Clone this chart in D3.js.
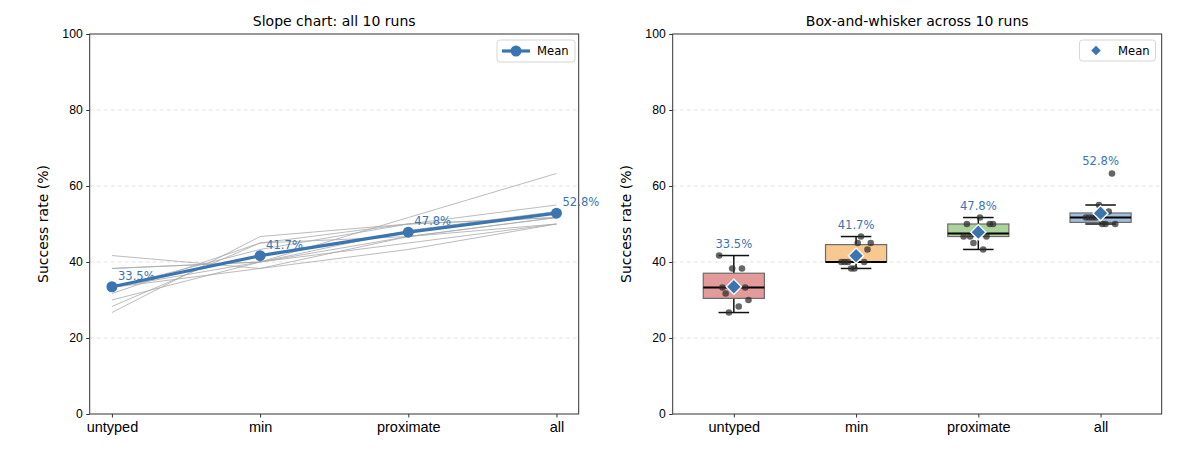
<!DOCTYPE html>
<html>
<head>
<meta charset="utf-8">
<script src="https://cdn.jsdelivr.net/npm/d3@7"></script>
<style>
  body { margin: 0; background: #fff; }
  svg { display: block; font-family: "DejaVu Sans", sans-serif; }
</style>
</head>
<body>
<svg id="chart" width="1200" height="466"></svg>
<script>
// categories and per-run success rates (%), one array per category, index = run
var categories = ["untyped", "min", "proximate", "all"];
var untyped   = [41.7, 38.3, 38.3, 33.3, 33.3, 33.3, 31.7, 30.0, 28.3, 26.7];
var minimal   = [38.3, 40.0, 40.0, 38.3, 40.0, 43.3, 45.0, 40.0, 45.0, 46.7];
var proximate = [43.3, 45.0, 46.7, 46.7, 48.3, 50.0, 50.0, 51.7, 46.7, 50.0];
var allTypes  = [50.0, 50.0, 51.7, 51.7, 53.3, 55.0, 51.7, 63.3, 50.0, 51.7];
var yTicks = [0, 20, 40, 60, 80, 100];

var series = [untyped, minimal, proximate, allTypes];
var means = series.map(function(s) { return d3.mean(s); });
var nRuns = untyped.length;

var blue = "#3a75b0";
var boxFills = ["#e29a9a", "#f8c891", "#abd39b", "#a2bedc"];

var svg = d3.select("#chart");
var plotTop = 34, plotBottom = 414;
var y = d3.scaleLinear().domain([0, 100]).range([plotBottom, plotTop]);

// draws the frame, grid, ticks and labels of one panel
function panel(x0, x1, pad, title) {
  var x = d3.scalePoint().domain(categories).range([x0, x1]).padding(pad);
  var g = svg.append("g");

  g.append("g").selectAll("line")
    .data(yTicks.filter(function(t) { return t > 0 && t < 100; }))
    .enter().append("line")
      .attr("x1", x0).attr("x2", x1)
      .attr("y1", function(d) { return y(d); })
      .attr("y2", function(d) { return y(d); })
      .style("stroke", "#d9d9d9")
      .style("stroke-width", 0.8)
      .style("stroke-dasharray", "4,3");

  var yAxis = g.append("g")
    .attr("transform", "translate(" + x0 + ",0)")
    .call(d3.axisLeft(y).tickValues(yTicks).tickSize(3.5).tickPadding(3.5));
  yAxis.select(".domain").remove();
  yAxis.selectAll("text").style("font-size", "12.2px").style("fill", "#000");
  yAxis.selectAll("line").style("stroke", "#333");

  var xAxis = g.append("g")
    .attr("transform", "translate(0," + plotBottom + ")")
    .call(d3.axisBottom(x).tickSize(3.5).tickPadding(4));
  xAxis.select(".domain").remove();
  xAxis.selectAll("text").style("font-size", "14.5px").style("fill", "#000");
  xAxis.selectAll("line").style("stroke", "#333");

  g.append("rect")
    .attr("x", x0).attr("y", plotTop)
    .attr("width", x1 - x0).attr("height", plotBottom - plotTop)
    .style("fill", "none").style("stroke", "#333").style("stroke-width", 1);

  g.append("text")
    .attr("x", (x0 + x1) / 2).attr("y", 26)
    .attr("text-anchor", "middle")
    .style("font-size", "14px")
    .text(title);

  g.append("text")
    .attr("transform", "translate(" + (x0 - 42) + "," + ((plotTop + plotBottom) / 2) + ") rotate(-90)")
    .attr("text-anchor", "middle")
    .style("font-size", "14px")
    .text("Success rate (%)");

  return x;
}

/*
 *    S L O P E   C H A R T
 */
var xl = panel(89.7, 578.7, 0.15, "Slope chart: all 10 runs");
var slopeG = svg.append("g");

var line = d3.line()
  .x(function(d) { return xl(d.cat); })
  .y(function(d) { return y(d.v); });

d3.range(nRuns).forEach(function(r) {
  slopeG.append("path")
    .datum(categories.map(function(c, j) { return { cat: c, v: series[j][r] }; }))
    .attr("d", line)
    .style("fill", "none")
    .style("stroke", "#aaaaaa")
    .style("stroke-opacity", 0.8)
    .style("stroke-width", 1);
});

var meanPts = categories.map(function(c, j) { return { cat: c, v: means[j] }; });
slopeG.append("path")
  .datum(meanPts)
  .attr("d", line)
  .style("fill", "none")
  .style("stroke", blue)
  .style("stroke-width", 3.2);

slopeG.selectAll(".meanDot")
  .data(meanPts)
  .enter().append("circle")
    .attr("class", "meanDot")
    .attr("cx", function(d) { return xl(d.cat); })
    .attr("cy", function(d) { return y(d.v); })
    .attr("r", 5.5)
    .style("fill", blue);

slopeG.selectAll(".meanLabel")
  .data(meanPts)
  .enter().append("text")
    .attr("x", function(d) { return xl(d.cat) + 6; })
    .attr("y", function(d) { return y(d.v) - 7; })
    .style("font-size", "11.6px")
    .style("fill", blue)
    .text(function(d) { return d.v.toFixed(1) + "%"; });

// legend
var legL = svg.append("g").attr("transform", "translate(497,40)");
legL.append("rect").attr("width", 78).attr("height", 22).attr("rx", 3)
  .style("fill", "#fff").style("stroke", "#d6d6d6");
legL.append("line").attr("x1", 5).attr("x2", 33).attr("y1", 11).attr("y2", 11)
  .style("stroke", blue).style("stroke-width", 3.2);
legL.append("circle").attr("cx", 19).attr("cy", 11).attr("r", 5.5).style("fill", blue);
legL.append("text").attr("x", 40).attr("y", 15).style("font-size", "11.6px").text("Mean");

/*
 *    B O X   P L O T
 */
var xr = panel(672.7, 1161.7, 0.5, "Box-and-whisker across 10 runs");
var step = xr.step();
var boxW = step * 0.5, capW = step * 0.25;
var boxG = svg.append("g");

categories.forEach(function(c, j) {
  var vals = series[j].slice().sort(d3.ascending);
  var q1 = d3.quantile(vals, 0.25),
      med = d3.quantile(vals, 0.5),
      q3 = d3.quantile(vals, 0.75),
      iqr = q3 - q1;
  var lo = d3.min(vals.filter(function(v) { return v >= q1 - 1.5 * iqr; })),
      hi = d3.max(vals.filter(function(v) { return v <= q3 + 1.5 * iqr; }));
  var cx = xr(c);
  var g = boxG.append("g");

  // whiskers and caps
  [[lo, q1], [q3, hi]].forEach(function(w) {
    g.append("line").attr("x1", cx).attr("x2", cx)
      .attr("y1", y(w[0])).attr("y2", y(w[1]))
      .style("stroke", "#111").style("stroke-width", 1.5);
  });
  [lo, hi].forEach(function(v) {
    g.append("line").attr("x1", cx - capW / 2).attr("x2", cx + capW / 2)
      .attr("y1", y(v)).attr("y2", y(v))
      .style("stroke", "#111").style("stroke-width", 1.5);
  });

  g.append("rect")
    .attr("x", cx - boxW / 2).attr("y", y(q3))
    .attr("width", boxW).attr("height", y(q1) - y(q3))
    .style("fill", boxFills[j])
    .style("stroke", "#6b6b6b")
    .style("stroke-width", 1.2);

  g.append("line").attr("x1", cx - boxW / 2).attr("x2", cx + boxW / 2)
    .attr("y1", y(med)).attr("y2", y(med))
    .style("stroke", "#000").style("stroke-width", 2);

  // individual runs, spread sideways by a fixed pattern
  g.selectAll(".run")
    .data(series[j])
    .enter().append("circle")
      .attr("class", "run")
      .attr("cx", function(d, i) {
        var k = ((i * 7 + j * 3) % 10) / 9 - 0.5;
        return cx + k * step * 0.24;
      })
      .attr("cy", function(d) { return y(d); })
      .attr("r", 3.3)
      .style("fill", "#2b2b2b")
      .style("opacity", 0.72);

  // mean diamond
  g.append("path")
    .attr("d", d3.symbol().type(d3.symbolSquare).size(115)())
    .attr("transform", "translate(" + cx + "," + y(means[j]) + ") rotate(45)")
    .style("fill", blue)
    .style("stroke", "#fff")
    .style("stroke-width", 1.3);

  g.append("text")
    .attr("x", cx).attr("y", y(d3.max(vals) + 2.1))
    .attr("text-anchor", "middle")
    .style("font-size", "11.6px")
    .style("fill", blue)
    .text(means[j].toFixed(1) + "%");
});

var legR = svg.append("g").attr("transform", "translate(1079.5,40)");
legR.append("rect").attr("width", 76).attr("height", 21).attr("rx", 3)
  .style("fill", "#fff").style("stroke", "#d6d6d6");
legR.append("path")
  .attr("d", d3.symbol().type(d3.symbolSquare).size(60)())
  .attr("transform", "translate(16.5,10.5) rotate(45)")
  .style("fill", blue).style("stroke", "#fff");
legR.append("text").attr("x", 38.5).attr("y", 15).style("font-size", "11.6px").text("Mean");
</script>
</body>
</html>
